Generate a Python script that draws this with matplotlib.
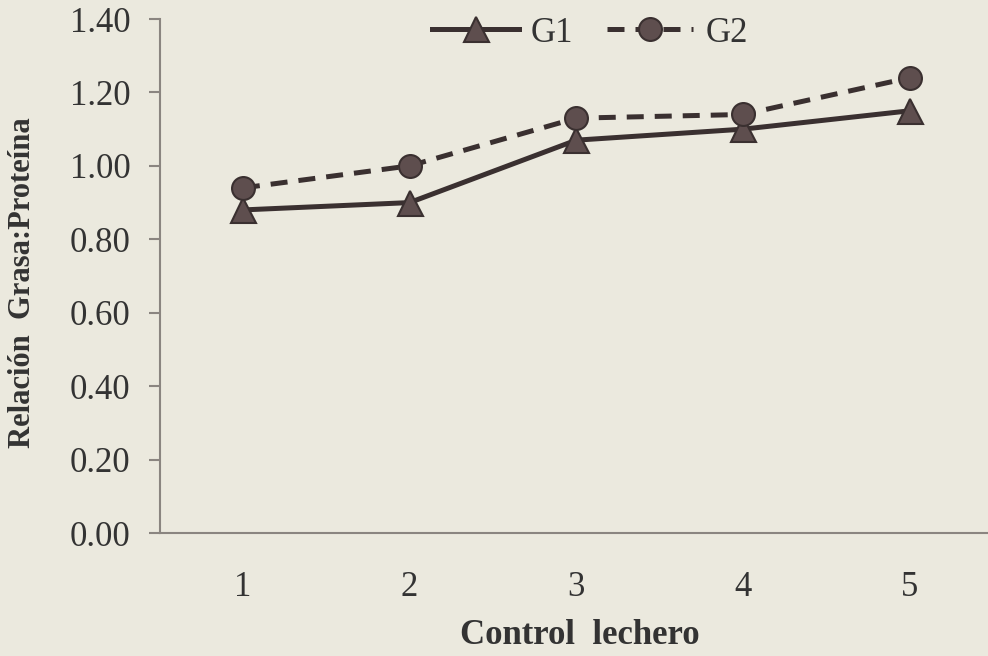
import matplotlib.pyplot as plt

# Datos del gráfico: relación grasa:proteína por control lechero
controles = [1, 2, 3, 4, 5]
g1 = [0.88, 0.90, 1.07, 1.10, 1.15]
g2 = [0.94, 1.00, 1.13, 1.14, 1.24]
yticks = [0.0, 0.2, 0.4, 0.6, 0.8, 1.0, 1.2, 1.4]

fondo = '#ebe9de'
oscuro = '#3a3030'
relleno = '#5e4e4e'
gris = '#8a8580'

plt.rcParams['font.family'] = ['Liberation Serif', 'DejaVu Serif']

fig = plt.figure(figsize=(9.88, 6.56), dpi=100, facecolor=fondo)
ax = fig.add_axes([0.1615, 0.1875, 1.005 - 0.1615, 0.971 - 0.1875])
ax.set_facecolor(fondo)

ax.plot(controles, g1, color=oscuro, lw=3.6, marker='^', ms=18,
        mfc=relleno, mec=oscuro, mew=1.5, label='G1', zorder=3)
ax.plot(controles, g2, color=oscuro, lw=3.6, marker='o', ms=16.5,
        mfc=relleno, mec=oscuro, mew=1.5, label='G2', dashes=(3.4, 2.2), zorder=3)

ax.set_xlim(0.5, 5.5)
ax.set_ylim(0, 1.4)
ax.set_xticks(controles)
ax.set_yticks(yticks)
ax.set_yticklabels([f'{v:.2f}' for v in yticks])

for lado in ['top', 'right']:
    ax.spines[lado].set_visible(False)
for lado in ['left', 'bottom']:
    ax.spines[lado].set_color(gris)
    ax.spines[lado].set_linewidth(1.5)

ax.tick_params(axis='y', direction='out', length=8, width=1.5, color=gris,
               pad=13, labelsize=25, labelcolor='#333333')
ax.tick_params(axis='x', length=0, pad=27, labelsize=25, labelcolor='#333333')

fig.text(23 / 988, 1 - 283 / 656, 'Relación  Grasa:Proteína', rotation=90,
         ha='center', va='center', fontsize=22, fontweight='bold', color='#333333')
fig.text(580 / 988, 1 - 636 / 656, 'Control  lechero', ha='center', va='center',
         fontsize=25, fontweight='bold', color='#333333')

ax.legend(loc='center', bbox_to_anchor=(590 / 988, 1 - 33 / 656),
          bbox_transform=fig.transFigure, ncol=2, frameon=False, fontsize=25,
          handlelength=2.5, handletextpad=0.35, columnspacing=0.95,
          labelcolor='#333333')

fig.savefig('out.png', dpi=100, facecolor=fondo)
